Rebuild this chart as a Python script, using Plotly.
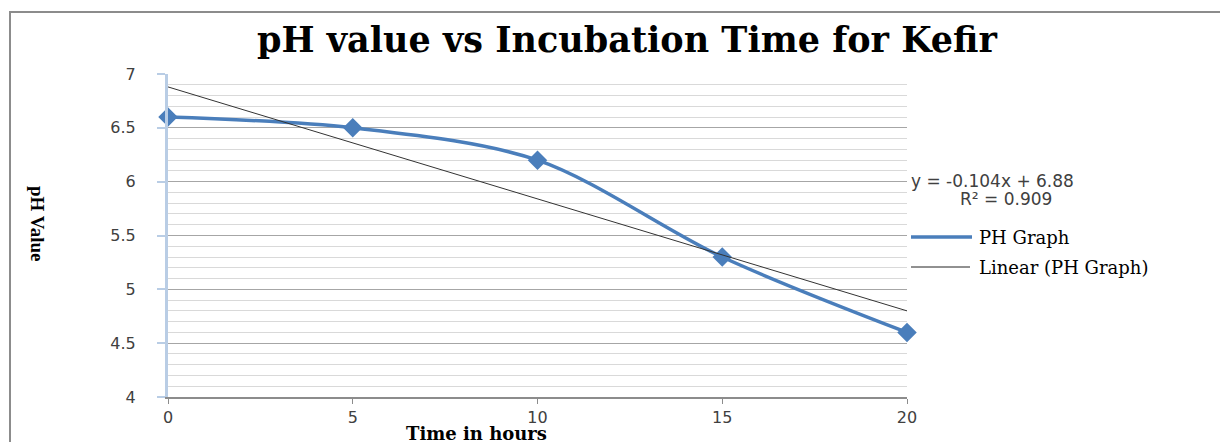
import numpy as np
import plotly.graph_objects as go

time_hours = [0, 5, 10, 15, 20]
ph_values = [6.6, 6.5, 6.2, 5.3, 4.6]
x_ticks = [0, 5, 10, 15, 20]
y_ticks = [4, 4.5, 5, 5.5, 6, 6.5, 7]
y_tick_labels = ["4", "4.5", "5", "5.5", "6", "6.5", "7"]
equation_text = "y = -0.104x + 6.88"
r2_text = "R² = 0.909"

slope, intercept = np.polyfit(time_hours, ph_values, 1)
trend_x = [time_hours[0], time_hours[-1]]
trend_y = list(np.polyval([slope, intercept], trend_x))

# browser page adds an 8px body margin; the figure is sized to fill the rest
OFF = 8
W, H = 1228 - OFF, 442 - OFF
L, R, T, B = 168 - OFF, 1228 - 907, 74 - OFF, 442 - 397
pw, ph = W - L - R, H - T - B

def px(xp):
    return (xp - OFF - L) / pw

def py(yp):
    return (H - B - (yp - OFF)) / ph

fig = go.Figure()
fig.add_trace(go.Scatter(
    x=time_hours, y=ph_values, mode="lines+markers", name="PH Graph",
    line=dict(color="#4a7ebb", width=3.5, shape="spline", smoothing=0.9),
    marker=dict(symbol="diamond", size=15, color="#4a7ebb"),
    showlegend=False, cliponaxis=False,
))
fig.add_trace(go.Scatter(
    x=trend_x, y=trend_y, mode="lines", name="Linear (PH Graph)",
    line=dict(color="#333333", width=1), showlegend=False,
))

serif_wide = "DejaVu Serif, serif"
serif = "Liberation Serif, Times New Roman, serif"
sans = "DejaVu Sans, sans-serif"

ann = [
    dict(text="<b>pH value vs Incubation Time for Kefir</b>", x=px(627), y=py(40),
         xref="paper", yref="paper", showarrow=False, xanchor="center", yanchor="middle",
         font=dict(family=serif_wide, size=35, color="black")),
    dict(text="<b>pH Value</b>", x=px(38), y=py(224), xref="paper", yref="paper",
         showarrow=False, textangle=90, xanchor="center", yanchor="middle",
         font=dict(family=serif, size=19, color="black")),
    dict(text="<b>Time in hours</b>", x=px(476), y=py(433), xref="paper", yref="paper",
         showarrow=False, xanchor="center", yanchor="middle",
         font=dict(family=serif_wide, size=18, color="black")),
    dict(text=equation_text, x=px(909), y=py(181),
         xref="paper", yref="paper", showarrow=False, xanchor="left", yanchor="middle",
         font=dict(family=sans, size=17, color="#404040")),
    dict(text=r2_text, x=px(958), y=py(199),
         xref="paper", yref="paper", showarrow=False, xanchor="left", yanchor="middle",
         font=dict(family=sans, size=17, color="#404040")),
    dict(text="PH Graph", x=px(977), y=py(237),
         xref="paper", yref="paper", showarrow=False, xanchor="left", yanchor="middle",
         font=dict(family=serif_wide, size=18, color="black")),
    dict(text="Linear (PH Graph)", x=px(977), y=py(267),
         xref="paper", yref="paper", showarrow=False, xanchor="left", yanchor="middle",
         font=dict(family=serif_wide, size=18, color="black")),
]

shapes = [
    dict(type="rect", xref="paper", yref="paper", x0=px(10), x1=px(1260), y0=py(12), y1=py(470),
         line=dict(color="#8c8c8c", width=2), fillcolor="rgba(0,0,0,0)", layer="below"),
    dict(type="line", xref="paper", yref="paper", x0=px(911), x1=px(972), y0=py(237), y1=py(237),
         line=dict(color="#4a7ebb", width=3.5)),
    dict(type="line", xref="paper", yref="paper", x0=px(911), x1=px(970), y0=py(267), y1=py(267),
         line=dict(color="#222222", width=1)),
]

# legend swatch marker (placed in data coords derived from paper position)
fig.add_trace(go.Scatter(
    x=[px(941) * (x_ticks[-1] - x_ticks[0]) + x_ticks[0]],
    y=[py(237) * (y_ticks[-1] - y_ticks[0]) + y_ticks[0]],
    mode="markers", marker=dict(symbol="diamond", size=15, color="#4a7ebb"),
    showlegend=False, cliponaxis=False, hoverinfo="skip",
))

fig.update_layout(
    width=W, height=H, autosize=False,
    margin=dict(l=L, r=R, t=T, b=B, pad=0),
    paper_bgcolor="white", plot_bgcolor="white",
    annotations=ann, shapes=shapes,
    xaxis=dict(range=[0, 20], tickvals=x_ticks, ticktext=[str(v) for v in x_ticks],
               showgrid=False, zeroline=False, showline=True, linecolor="#8c8c8c", linewidth=1.5,
               ticks="outside", ticklen=5, tickcolor="#8c8c8c", tickwidth=1,
               ticklabelstandoff=0,
               tickfont=dict(family=sans, size=16, color="#404040")),
    yaxis=dict(range=[4, 7], tickvals=y_ticks, ticktext=y_tick_labels,
               showgrid=True, gridcolor="#a6a6a6", gridwidth=1, zeroline=False,
               showline=True, linecolor="#b9cde5", linewidth=3,
               ticks="outside", ticklen=8, tickcolor="#b9cde5", tickwidth=2,
               ticklabelstandoff=18,
               tickfont=dict(family=sans, size=16, color="#404040"),
               minor=dict(dtick=0.1, tick0=4, showgrid=True, gridcolor="#d9d9d9", gridwidth=1)),
)

fig.write_html("out.html")
